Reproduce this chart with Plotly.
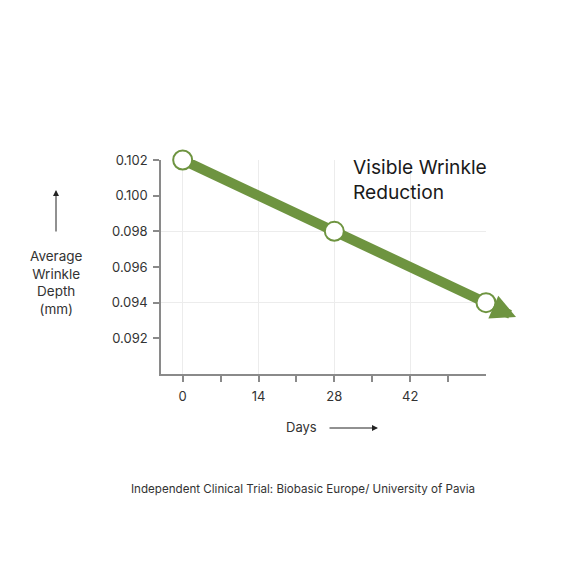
import plotly.graph_objects as go

# data
days = [0, 28, 56]
depth = [0.102, 0.098, 0.094]

x_tick_vals = [0, 14, 28, 42]
x_tick_text = ["0", "14", "28", "42"]
x_minor_vals = [7, 21, 35, 49]
y_tick_vals = [0.092, 0.094, 0.096, 0.098, 0.100, 0.102]
y_tick_text = ["0.092", "0.094", "0.096", "0.098", "0.100", "0.102"]
y_grid_vals = [0.094, 0.098, 0.102]

green = "#6E9440"
font = "Inter"

W, H = 570, 570
OFF = 8  # page offset of the figure
L, R, T, B = 161 - OFF, 84 + OFF, 160 - OFF, 196 + OFF
pw, ph = W - L - R, H - T - B


def px(x):
    return (x - OFF - L) / pw


def py(y):
    return (H - B - (y - OFF)) / ph


fig = go.Figure()

fig.add_trace(go.Scatter(
    x=days, y=depth,
    mode="lines+markers",
    line=dict(color=green, width=10),
    marker=dict(size=19, color="white", line=dict(color=green, width=2)),
    cliponaxis=False,
    hoverinfo="skip",
))

# arrow head continuing the trend past the last point
fig.add_annotation(
    x=px(516), y=py(317), xref="paper", yref="paper", ax=-32, ay=-14,
    text="", showarrow=True, arrowhead=2, arrowsize=0.55, startstandoff=10,
    arrowwidth=9, arrowcolor=green,
)

fig.add_annotation(
    x=px(351), y=py(153), xref="paper", yref="paper", text="Visible Wrinkle<br>Reduction",
    showarrow=False, xanchor="left", yanchor="top", align="left",
    font=dict(family=font, size=19.2, color="#1a1a1a"),
)

# y axis title + arrow
fig.add_annotation(
    x=px(56), y=py(282), xref="paper", yref="paper",
    xanchor="center", yanchor="middle",
    text="Average<br>Wrinkle<br>Depth<br>(mm)", showarrow=False,
    font=dict(family=font, size=13.5, color="#333"), align="center",
)
fig.add_annotation(
    x=px(56), y=py(190), xref="paper", yref="paper", ax=0, ay=43,
    text="", showarrow=True, arrowhead=2, arrowsize=1.2, arrowwidth=1, arrowcolor="#222",
)

# x axis title + arrow
fig.add_annotation(
    x=px(301), y=py(427), xref="paper", yref="paper",
    xanchor="center", yanchor="middle", text="Days",
    showarrow=False, font=dict(family=font, size=13, color="#333"),
)
fig.add_annotation(
    x=px(378), y=py(428), xref="paper", yref="paper", ax=-50, ay=0,
    text="", showarrow=True, arrowhead=2, arrowsize=1.2, arrowwidth=1, arrowcolor="#222",
)

# footer
fig.add_annotation(
    x=px(303), y=py(489), xref="paper", yref="paper",
    xanchor="center", yanchor="middle",
    text="Independent Clinical Trial: Biobasic Europe/ University of Pavia",
    showarrow=False, font=dict(family=font, size=11.6, color="#333"),
)

fig.update_xaxes(
    range=[-4, 56], tickmode="array", tickvals=x_tick_vals, ticktext=x_tick_text,
    showgrid=True, gridcolor="#ececec", gridwidth=1,
    showline=True, linecolor="#8a8a8a", linewidth=1.5,
    ticks="outside", ticklen=6, tickcolor="#8a8a8a", tickwidth=1.5,
    ticklabelstandoff=4,
    minor=dict(tickvals=x_minor_vals, ticks="outside", ticklen=6,
               tickcolor="#8a8a8a", tickwidth=1.5, showgrid=False),
    tickfont=dict(family=font, size=13, color="#333"),
    zeroline=False, fixedrange=True,
)
fig.update_yaxes(
    range=[0.090, 0.102], tickmode="array", tickvals=y_tick_vals, ticktext=y_tick_text,
    showgrid=False,
    showline=True, linecolor="#8a8a8a", linewidth=1.5,
    ticks="outside", ticklen=6, tickcolor="#8a8a8a", tickwidth=1.5,
    ticklabelstandoff=3,
    minor=dict(tickvals=y_grid_vals, ticks="", showgrid=True,
               gridcolor="#ececec", gridwidth=1),
    tickfont=dict(family=font, size=13, color="#333"),
    zeroline=False, fixedrange=True,
)

fig.update_layout(
    width=W, height=H,
    margin=dict(l=L, r=R, t=T, b=B),
    paper_bgcolor="white", plot_bgcolor="white",
    showlegend=False,
)

fig.write_html("out.html")
